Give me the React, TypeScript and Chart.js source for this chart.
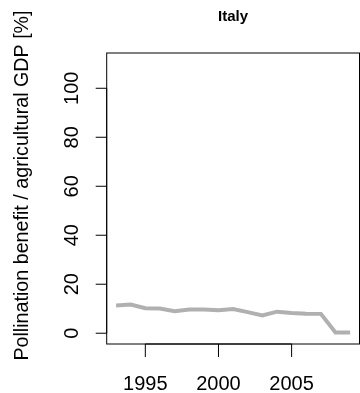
import React, { useEffect, useRef } from "react";
import { Chart, registerables } from "chart.js";

Chart.register(...registerables);

const title = "Italy";
const yAxisTitle = "Pollination benefit / agricultural GDP [%]";
const years = [1993, 1994, 1995, 1996, 1997, 1998, 1999, 2000, 2001, 2002, 2003, 2004, 2005, 2006, 2007, 2008, 2009];
const benefit = [11.3, 11.7, 10.2, 10.1, 9.0, 9.7, 9.7, 9.4, 9.9, 8.6, 7.3, 8.8, 8.3, 8.0, 7.9, 0.3, 0.3];
const xTicks = [1995, 2000, 2005];
const yTicks = [0, 20, 40, 60, 80, 100];

const FONT = '"Liberation Sans", Arial, Helvetica, sans-serif';

const rAxesPlugin = {
  id: "rAxes",
  afterDraw(chart: any) {
    const { ctx, chartArea, scales } = chart;
    const { left, right, top, bottom } = chartArea;
    const xs = scales.x;
    const ys = scales.y;
    ctx.save();
    ctx.strokeStyle = "#000";
    ctx.fillStyle = "#000";
    ctx.lineWidth = 1;
    // box
    ctx.strokeRect(left, top, right - left, bottom - top);
    // x ticks
    ctx.beginPath();
    const x0 = xs.getPixelForValue(xTicks[0]);
    const x1 = xs.getPixelForValue(xTicks[xTicks.length - 1]);
    ctx.moveTo(x0, bottom);
    ctx.lineTo(x1, bottom);
    xTicks.forEach((t) => {
      const px = xs.getPixelForValue(t);
      ctx.moveTo(px, bottom);
      ctx.lineTo(px, bottom + 13);
    });
    // y ticks
    const y0 = ys.getPixelForValue(yTicks[0]);
    const y1 = ys.getPixelForValue(yTicks[yTicks.length - 1]);
    ctx.moveTo(left, y0);
    ctx.lineTo(left, y1);
    yTicks.forEach((t) => {
      const py = ys.getPixelForValue(t);
      ctx.moveTo(left, py);
      ctx.lineTo(left - 11, py);
    });
    ctx.stroke();
    // x tick labels
    ctx.font = `20px ${FONT}`;
    ctx.textAlign = "center";
    ctx.textBaseline = "alphabetic";
    xTicks.forEach((t) => {
      ctx.fillText(String(t), xs.getPixelForValue(t), 390);
    });
    // y tick labels (rotated)
    yTicks.forEach((t) => {
      const py = ys.getPixelForValue(t);
      ctx.save();
      ctx.translate(78, py);
      ctx.rotate(-Math.PI / 2);
      ctx.fillText(String(t), 0, 0);
      ctx.restore();
    });
    // y axis title
    ctx.font = `19.7px ${FONT}`;
    ctx.save();
    ctx.translate(28, 185.5);
    ctx.rotate(-Math.PI / 2);
    ctx.fillText(yAxisTitle, 0, 0);
    ctx.restore();
    // title
    ctx.font = `bold 15px ${FONT}`;
    ctx.textBaseline = "alphabetic";
    ctx.fillText(title, (left + right) / 2, 21);
    ctx.restore();
  },
};

export default function App() {
  const ref = useRef<HTMLCanvasElement>(null);
  useEffect(() => {
    if (!ref.current) return;
    const chart = new Chart(ref.current, {
      type: "line",
      data: {
        datasets: [
          {
            data: years.map((y, i) => ({ x: y, y: benefit[i] })),
            borderColor: "#b0b0b0",
            borderWidth: 4,
            pointRadius: 0,
            tension: 0,
            fill: false,
          },
        ],
      },
      options: {
        animation: false,
        responsive: false,
        devicePixelRatio: 1,
        layout: { padding: { left: 106.7, right: 0.5, top: 53, bottom: 49 } },
        plugins: { legend: { display: false }, tooltip: { enabled: false }, title: { display: false } },
        scales: {
          x: { type: "linear", min: 1992.36, max: 2009.64, display: false },
          y: { type: "linear", min: -4.4, max: 114.4, display: false },
        },
      },
      plugins: [rAxesPlugin],
    });
    return () => chart.destroy();
  }, []);
  return (
    <div style={{ position: "absolute", left: 0, top: 0, width: 360, height: 393, background: "#fff" }}>
      <canvas ref={ref} width={360} height={393} />
    </div>
  );
}
